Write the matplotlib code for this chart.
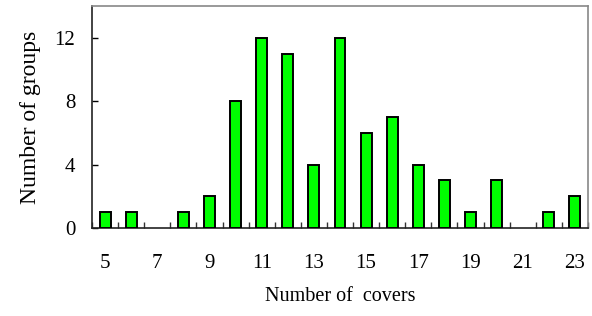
import numpy as np
import matplotlib
matplotlib.use("Agg")
import matplotlib.pyplot as plt
from matplotlib.ticker import MultipleLocator

covers = [5, 6, 7, 8, 9, 10, 11, 12, 13, 14, 15, 16, 17, 18, 19, 20, 21, 22, 23]
groups = [1, 1, 0, 1, 2, 8, 12, 11, 4, 12, 6, 7, 4, 3, 1, 3, 0, 1, 2]
x_labels = [5, 7, 9, 11, 13, 15, 17, 19, 21, 23]
y_ticks = [0, 4, 8, 12]

plt.rcParams["font.family"] = ["Liberation Serif", "DejaVu Serif"]

fig = plt.figure(figsize=(5.92, 3.16), dpi=100)
ax = fig.add_axes([0.1554, 0.2785, 0.8378, 0.7025])

# zero counts have no visible bar in the original
cov = np.array(covers)
grp = np.array(groups)
nz = grp > 0
ax.bar(cov[nz], grp[nz], width=0.42, color="#00ff00", edgecolor="black", linewidth=1.4, zorder=3)

ax.set_xlim(4.5, 23.5)
ax.set_ylim(0, 14)

ax.set_xticks(x_labels)
ax.set_xticklabels([str(v) for v in x_labels], fontsize=15)
ax.xaxis.set_minor_locator(MultipleLocator(1, offset=0.5))
ax.tick_params(axis="x", which="major", length=0, pad=19)
ax.tick_params(axis="x", which="minor", direction="in", length=4, width=1, color="#333333")

ax.set_yticks(y_ticks)
ax.set_yticklabels([str(v) for v in y_ticks], fontsize=15)
ax.tick_params(axis="y", which="major", direction="in", length=4, width=1, pad=12)

for side in ["left", "bottom"]:
    ax.spines[side].set_color("#222222")
    ax.spines[side].set_linewidth(1.2)
for side in ["top", "right"]:
    ax.spines[side].set_color("#888888")
    ax.spines[side].set_linewidth(1.2)

ax.set_xlabel("Number of  covers", fontsize=14.5, labelpad=10)
ax.set_ylabel("Number of groups", fontsize=17, labelpad=10)

fig.savefig("out.png", dpi=100)
